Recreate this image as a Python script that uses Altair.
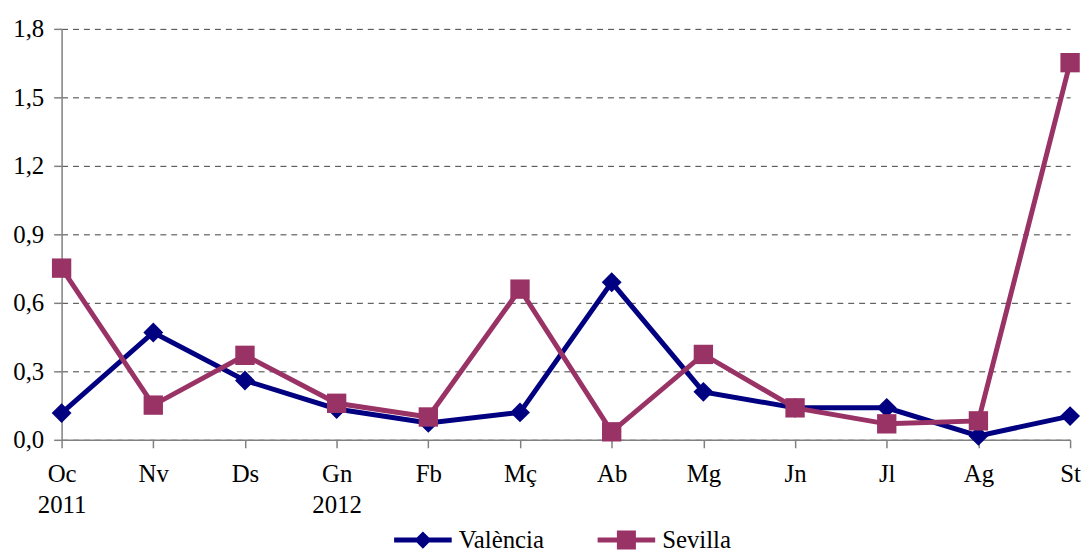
import altair as alt
import pandas as pd

months = ["Oc", "Nv", "Ds", "Gn", "Fb", "Mç", "Ab", "Mg", "Jn", "Jl", "Ag", "St"]
year_labels = {"Oc": "2011", "Gn": "2012"}
valencia = [0.117, 0.47, 0.26, 0.135, 0.074, 0.12, 0.69, 0.21, 0.14, 0.14, 0.017, 0.104]
sevilla = [0.752, 0.152, 0.37, 0.16, 0.10, 0.66, 0.035, 0.374, 0.14, 0.07, 0.083, 1.652]
series_names = ["València", "Sevilla"]
series_colors = ["#000080", "#993366"]
series_shapes = ["diamond", "square"]
y_ticks = [0, 0.3, 0.6, 0.9, 1.2, 1.5, 1.8]

rows = []
for name, vals in zip(series_names, [valencia, sevilla]):
    for m, v in zip(months, vals):
        rows.append({"month": m, "series": name, "value": v})
df = pd.DataFrame(rows)

FONT = "Liberation Serif"
FS = 25

label_expr = ""
for m, yr in year_labels.items():
    label_expr += f"datum.value == '{m}' ? ['{m}', '{yr}'] : "
label_expr += "datum.value"

x_enc = alt.X(
    "month:N",
    sort=months,
    scale=alt.Scale(type="point", padding=0),
    axis=alt.Axis(
        title=None,
        labelExpr=label_expr,
        labelAngle=0,
        labelAlign="center",
        labelFlush=False,
        labelFont=FONT,
        labelFontSize=FS,
        labelColor="black",
        labelLineHeight=31,
        labelPadding=14,
        tickSize=8,
        tickColor="#808080",
        domainColor="#808080",
        domainWidth=1.5,
        tickWidth=1.5,
        grid=False,
    ),
)
y_enc = alt.Y(
    "value:Q",
    scale=alt.Scale(domain=[0, 1.8], nice=False, zero=True),
    axis=alt.Axis(
        title=None,
        values=y_ticks,
        labelExpr="replace(format(datum.value, '.1f'), '.', ',')",
        labelFont=FONT,
        labelFontSize=FS,
        labelColor="black",
        labelPadding=10,
        labelFlush=False,
        tickSize=8,
        tickColor="#808080",
        tickWidth=1.5,
        domainColor="#808080",
        domainWidth=1.5,
        grid=True,
        gridColor="#404040",
        gridDash=[6, 5],
        gridWidth=1,
    ),
)

legend_paths = [
    "M-1,-0.085H1V0.085H-1Z M0,-0.3L0.3,0L0,0.3L-0.3,0Z",
    "M-1,-0.085H1V0.085H-1Z M-0.33,-0.33H0.33V0.33H-0.33Z",
]
leg = alt.Legend(
    title=None,
    orient="none",
    legendX=335,
    legendY=486,
    direction="horizontal",
    symbolSize=3364,
    symbolStrokeWidth=0,
    symbolOpacity=1,
    labelFont=FONT,
    labelFontSize=FS,
    labelColor="black",
    labelOffset=7,
    columnPadding=53,
    labelLimit=300,
)
legend_layer = (
    alt.Chart(df)
    .transform_filter("false")
    .mark_point(filled=True, opacity=1)
    .encode(
        x=x_enc,
        y=y_enc,
        color=alt.Color(
            "series:N", scale=alt.Scale(domain=series_names, range=series_colors), legend=leg
        ),
        shape=alt.Shape(
            "series:N",
            scale=alt.Scale(domain=series_names, range=legend_paths),
            legend=leg,
        ),
    )
)

layers = [legend_layer]
sizes = {"diamond": 400, "square": 380}
for name, col, shp in zip(series_names, series_colors, series_shapes):
    sub = alt.Chart(df).transform_filter(alt.datum.series == name).encode(x=x_enc, y=y_enc)
    layers.append(sub.mark_line(strokeWidth=5, color=col))
    layers.append(
        sub.mark_point(filled=True, opacity=1, size=sizes[shp], shape=shp, color=col)
    )

chart = (
    alt.layer(*layers)
    .properties(
        width=1016,
        height=414,
        autosize=alt.AutoSizeParams(type="none"),
        padding={"left": 54, "top": 19, "right": 13, "bottom": 111},
        background="white",
    )
    .configure(font=FONT)
    .configure_view(stroke=None)
)

chart.save("out.html", embed_options={"renderer": "svg", "actions": False})
